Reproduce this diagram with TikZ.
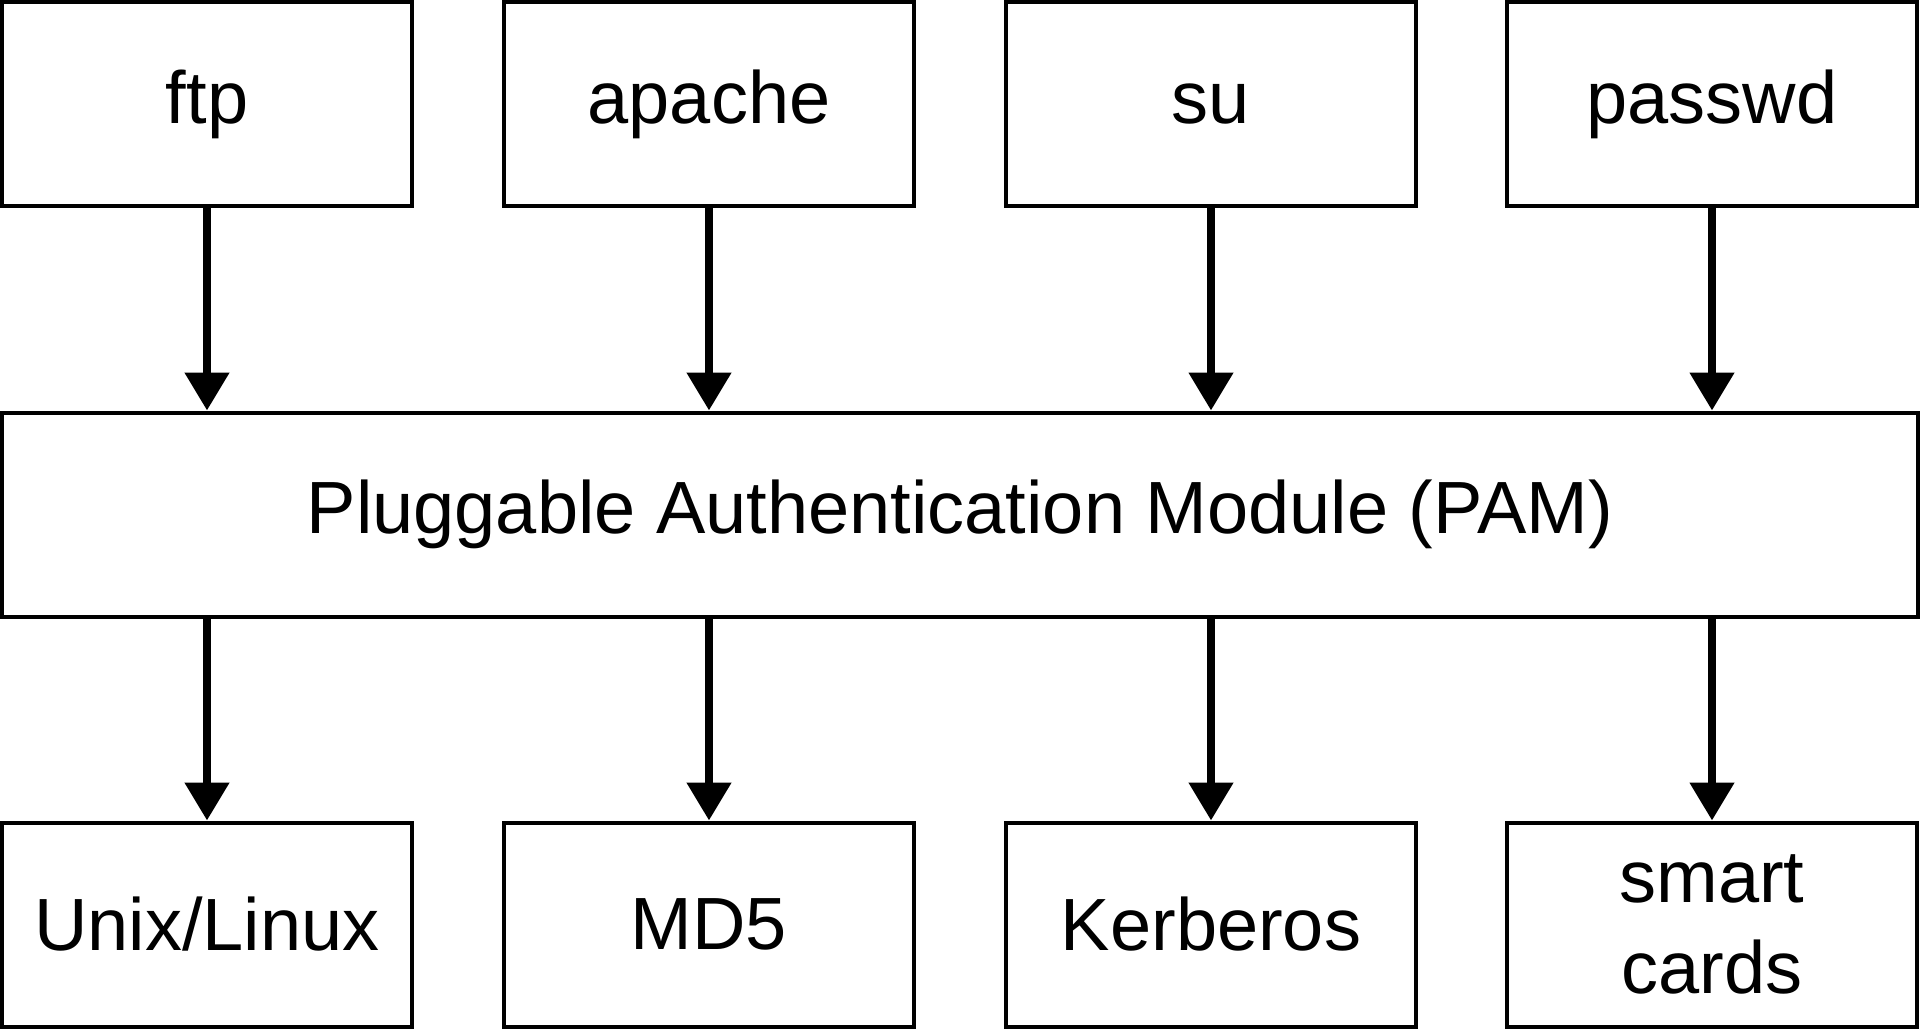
\documentclass[tikz,border=0pt]{standalone}
\usepackage{fontspec}
\setmainfont{Liberation Sans}
\usetikzlibrary{arrows.meta}

\tikzset{
  pambox/.style={draw, line width=1pt, minimum width=102.4pt, minimum height=51pt,
    inner sep=0pt, align=center, font=\fontsize{18.5}{22.6}\selectfont},
  pamarrow/.style={line width=2pt, -{Triangle[width=10.75pt,length=9.5pt]}}
}

\begin{document}
\begin{tikzpicture}[x=0.25pt,y=0.25pt,yscale=-1,xscale=1]
    \useasboundingbox (0,0) rectangle (1920,1030); %set diagram to 1920 x 1030

    %Shape: Rectangle [id:top row] 
    \node [pambox] (ftp) at (207,104) {ftp};
    \node [pambox] (apache) at (709,104) {apache};
    \node [pambox] (su) at (1211,104) {su};
    \node [pambox] (passwd) at (1712,104) {passwd};

    %Shape: Rectangle [id:pam] 
    \node [pambox, minimum width=479pt] (pam) at (960,514.5) {Pluggable Authentication Module (PAM)};

    %Shape: Rectangle [id:bottom row] 
    \node [pambox] (unix) at (207,924.5) {Unix/Linux};
    \node [pambox] (md5) at (709,924.5) {MD5};
    \node [pambox] (kerberos) at (1211,924.5) {Kerberos};
    \node [pambox] (smart) at (1712,924.5) {smart\\cards};

    %Straight Lines [id:applications to pam] 
    \foreach \app in {ftp,apache,su,passwd}
      \draw [pamarrow] (\app.south) -- (\app.south |- pam.north);

    %Straight Lines [id:pam to modules] 
    \foreach \mod in {unix,md5,kerberos,smart}
      \draw [pamarrow] (\mod.north |- pam.south) -- (\mod.north);

\end{tikzpicture}
\end{document}
